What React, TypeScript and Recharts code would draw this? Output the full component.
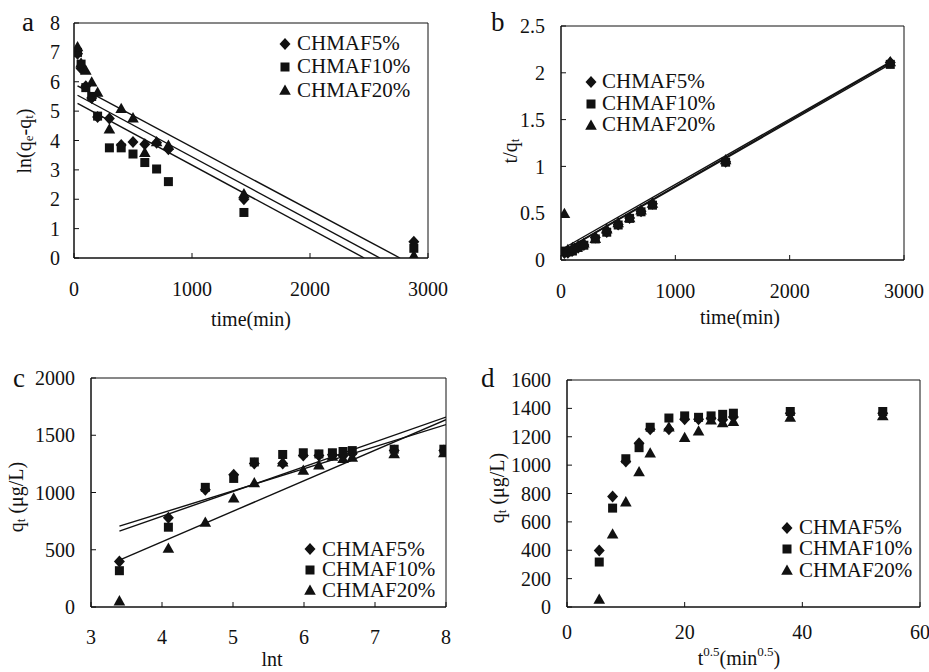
import React from 'react'
import { ComposedChart, Scatter, Line, XAxis, YAxis, ReferenceArea, Legend } from 'recharts'

const FONT = '"Liberation Serif", Tinos, "DejaVu Serif", "Times New Roman", serif'
const INK = '#111'

const seriesNames = ['CHMAF5%', 'CHMAF10%', 'CHMAF20%']

const times = [30, 60, 100, 150, 200, 300, 400, 500, 600, 700, 800, 1440, 2880]
const lnTimes = [3.4, 4.09, 4.61, 5.01, 5.3, 5.7, 5.99, 6.21, 6.4, 6.55, 6.68, 7.27, 7.97]
const sqrtTimes = [5.48, 7.75, 10, 12.25, 14.14, 17.32, 20, 22.36, 24.49, 26.46, 28.28, 37.95, 53.67]

// a: ln(qe-qt)
const lnGap5 = [6.95, 6.45, 5.85, 5.45, 4.8, 4.75, 3.85, 3.95, 3.87, 3.92, 3.7, 2.0, 0.55]
const lnGap10 = [7.0, 6.6, 5.8, 5.5, 4.83, 3.75, 3.75, 3.54, 3.25, 3.03, 2.6, 1.55, 0.33]
const lnGap20 = [7.2, 6.65, 6.4, 6.0, 5.65, 4.4, 5.1, 4.78, 3.6, 3.97, 3.85, 2.2, 0.1]
// pseudo first order fits: [intercept, slope]
const fitA = [[5.605, -0.002162], [5.325, -0.0021646], [5.92, -0.002143]]

// b: t/qt
const tq5 = [0.075, 0.077, 0.098, 0.13, 0.16, 0.24, 0.3, 0.38, 0.45, 0.52, 0.6, 1.05, 2.11]
const tq10 = [0.095, 0.086, 0.096, 0.134, 0.158, 0.225, 0.297, 0.374, 0.445, 0.515, 0.586, 1.045, 2.09]
const tq20 = [0.5, 0.116, 0.135, 0.157, 0.184, 0.234, 0.334, 0.402, 0.455, 0.538, 0.61, 1.075, 2.12]
const fitB = [[0.085, 0.000703], [0.08, 0.000699], [0.11, 0.000697]]

// c, d: qt (ug/L)
const q5 = [398, 779, 1025, 1154, 1253, 1253, 1323, 1323, 1330, 1320, 1340, 1366, 1366]
const q10 = [317, 697, 1045, 1123, 1267, 1332, 1347, 1337, 1347, 1358, 1366, 1378, 1378]
const q20 = [56, 516, 743, 955, 1088, 1270, 1197, 1243, 1320, 1300, 1310, 1340, 1350]
// Elovich fits: [intercept, slope]
const fitC = [[50.4, 192.8], [-74.6, 216.7], [-496.8, 266.6]]

type Pt = { x: number; y: number }
const toPoints = (xs: number[], ys: number[]): Pt[] => xs.map((x, i) => ({ x, y: ys[i] }))
const segment = (x0: number, x1: number, b: number, m: number): Pt[] => [
  { x: x0, y: b + m * x0 },
  { x: x1, y: b + m * x1 },
]

function Marker({ kind, cx, cy }: { kind: number; cx: number; cy: number }) {
  if (kind === 0)
    return <polygon points={`${cx},${cy - 6} ${cx + 5.5},${cy} ${cx},${cy + 6} ${cx - 5.5},${cy}`} fill={INK} />
  if (kind === 1) return <rect x={cx - 4.5} y={cy - 4.5} width={9} height={9} fill={INK} />
  return <polygon points={`${cx},${cy - 5.5} ${cx + 5.8},${cy + 4.8} ${cx - 5.8},${cy + 4.8}`} fill={INK} />
}

function LegendBox({ row, gap }: { row: number; gap: number }) {
  return (
    <div style={{ fontFamily: FONT, fontSize: 21, color: INK, lineHeight: `${row}px` }}>
      {seriesNames.map((name, k) => (
        <div key={name} style={{ display: 'flex', alignItems: 'center', height: row, whiteSpace: 'nowrap' }}>
          <svg width={12} height={14} style={{ marginRight: gap }}>
            <Marker kind={k} cx={6} cy={7} />
          </svg>
          <span>{name}</span>
        </div>
      ))}
    </div>
  )
}

type PanelProps = {
  left: number
  top: number
  width: number
  height: number
  mTop: number
  mRight: number
  yWidth: number
  xHeight: number
  xDomain: [number, number]
  xTicks: number[]
  yDomain: [number, number]
  yTicks: number[]
  xTickMargin: number
  yTickMargin: number
  series: Pt[][]
  fits: Pt[][]
  legend: { left: number; top: number; row: number; gap: number }
}

function Panel(p: PanelProps) {
  const tickStyle = { fill: INK, fontSize: 20, fontFamily: FONT }
  return (
    <div style={{ position: 'absolute', left: p.left, top: p.top }}>
      <ComposedChart
        width={p.width}
        height={p.height}
        margin={{ top: p.mTop, right: p.mRight, left: 0, bottom: 0 }}
      >
        <XAxis
          type="number"
          dataKey="x"
          domain={p.xDomain}
          ticks={p.xTicks}
          interval={0}
          height={p.xHeight}
          tickSize={-5}
          tickMargin={p.xTickMargin}
          stroke={INK}
          tick={tickStyle}
          allowDataOverflow
        />
        <YAxis
          type="number"
          dataKey="y"
          domain={p.yDomain}
          ticks={p.yTicks}
          interval={0}
          width={p.yWidth}
          tickSize={-5}
          tickMargin={p.yTickMargin}
          stroke={INK}
          tick={tickStyle}
          allowDataOverflow
        />
        <ReferenceArea
          x1={p.xDomain[0]}
          x2={p.xDomain[1]}
          y1={p.yDomain[0]}
          y2={p.yDomain[1]}
          fill="none"
          stroke={INK}
          strokeWidth={1}
          fillOpacity={0}
        />
        {p.fits.map((f, k) => (
          <Line
            key={'fit' + k}
            data={f}
            dataKey="y"
            stroke={INK}
            strokeWidth={1.4}
            dot={false}
            isAnimationActive={false}
            legendType="none"
          />
        ))}
        {p.series.map((s, k) => (
          <Scatter
            key={'s' + k}
            name={seriesNames[k]}
            data={s}
            dataKey="y"
            isAnimationActive={false}
            shape={(sp: any) => <Marker kind={k} cx={sp.cx} cy={sp.cy} />}
          />
        ))}
        <Legend
          layout="vertical"
          align="center"
          verticalAlign="middle"
          wrapperStyle={{ left: p.legend.left, top: p.legend.top, width: 'auto' }}
          content={() => <LegendBox row={p.legend.row} gap={p.legend.gap} />}
        />
      </ComposedChart>
    </div>
  )
}

export default function App() {
  const t0 = times[0]
  const fitsA = fitA.map(([b, m]) => segment(t0, -b / m, b, m))
  const fitsB = fitB.map(([b, m]) => segment(t0, times[times.length - 1], b, m))
  const fitsC = fitC.map(([b, m]) => segment(lnTimes[0], 8, b, m))
  const label = { fontSize: 20 }
  const sub = 13

  return (
    <div
      style={{
        position: 'absolute',
        left: 0,
        top: 0,
        width: 929,
        height: 672,
        background: '#fff',
        fontFamily: FONT,
      }}
    >
      <Panel
        left={0}
        top={0}
        width={460}
        height={330}
        mTop={23}
        mRight={32}
        yWidth={74}
        xHeight={72}
        xDomain={[0, 3000]}
        xTicks={[0, 1000, 2000, 3000]}
        yDomain={[0, 8]}
        yTicks={[0, 1, 2, 3, 4, 5, 6, 7, 8]}
        xTickMargin={29}
        yTickMargin={19}
        series={[toPoints(times, lnGap5), toPoints(times, lnGap10), toPoints(times, lnGap20)]}
        fits={fitsA}
        legend={{ left: 279, top: 32, row: 23.3, gap: 6 }}
      />
      <Panel
        left={460}
        top={0}
        width={469}
        height={330}
        mTop={26}
        mRight={25}
        yWidth={101}
        xHeight={70}
        xDomain={[0, 3000]}
        xTicks={[0, 1000, 2000, 3000]}
        yDomain={[0, 2.5]}
        yTicks={[0, 0.5, 1, 1.5, 2, 2.5]}
        xTickMargin={29}
        yTickMargin={21}
        series={[toPoints(times, tq5), toPoints(times, tq10), toPoints(times, tq20)]}
        fits={fitsB}
        legend={{ left: 125, top: 71, row: 21.7, gap: 5 }}
      />
      <Panel
        left={0}
        top={330}
        width={460}
        height={342}
        mTop={48}
        mRight={14}
        yWidth={91}
        xHeight={65}
        xDomain={[3, 8]}
        xTicks={[3, 4, 5, 6, 7, 8]}
        yDomain={[0, 2000]}
        yTicks={[0, 500, 1000, 1500, 2000]}
        xTickMargin={28}
        yTickMargin={21}
        series={[toPoints(lnTimes, q5), toPoints(lnTimes, q10), toPoints(lnTimes, q20)]}
        fits={fitsC}
        legend={{ left: 304, top: 209, row: 20.4, gap: 6 }}
      />
      <Panel
        left={460}
        top={330}
        width={469}
        height={342}
        mTop={50}
        mRight={9}
        yWidth={107}
        xHeight={65}
        xDomain={[0, 60]}
        xTicks={[0, 20, 40, 60]}
        yDomain={[0, 1600]}
        yTicks={[0, 200, 400, 600, 800, 1000, 1200, 1400, 1600]}
        xTickMargin={23}
        yTickMargin={21}
        series={[toPoints(sqrtTimes, q5), toPoints(sqrtTimes, q10), toPoints(sqrtTimes, q20)]}
        fits={[]}
        legend={{ left: 321, top: 187, row: 21.3, gap: 6 }}
      />

      {/* panel letters and axis titles */}
      <svg
        width={929}
        height={672}
        style={{ position: 'absolute', left: 0, top: 0, pointerEvents: 'none', fontFamily: FONT }}
        fill={INK}
      >
        <text x={22} y={31} fontSize={27}>a</text>
        <text x={491} y={31} fontSize={27}>b</text>
        <text x={13} y={387} fontSize={27}>c</text>
        <text x={481} y={387} fontSize={27}>d</text>

        <text x={251} y={326} textAnchor="middle" {...label}>time(min)</text>
        <text x={740} y={324} textAnchor="middle" {...label}>time(min)</text>
        <text x={272} y={666} textAnchor="middle" {...label}>lnt</text>
        <text x={739} y={665} textAnchor="middle" {...label}>
          t<tspan fontSize={sub} dy={-9}>0.5</tspan>
          <tspan dy={9}>(min</tspan>
          <tspan fontSize={sub} dy={-9}>0.5</tspan>
          <tspan dy={9}>)</tspan>
        </text>

        <text transform="translate(31,141) rotate(-90)" textAnchor="middle" {...label}>
          ln(q<tspan fontSize={sub} dy={2}>e</tspan>
          <tspan dy={-2}>-q</tspan>
          <tspan fontSize={sub} dy={2}>t</tspan>
          <tspan dy={-2}>)</tspan>
        </text>
        <text transform="translate(517,151) rotate(-90)" textAnchor="middle" {...label}>
          t/q<tspan fontSize={sub} dy={2}>t</tspan>
        </text>
        <text transform="translate(23,497) rotate(-90)" textAnchor="middle" {...label}>
          q<tspan fontSize={sub} dy={2}>t</tspan>
          <tspan dy={-2}> (μg/L)</tspan>
        </text>
        <text transform="translate(504,488) rotate(-90)" textAnchor="middle" {...label}>
          q<tspan fontSize={sub} dy={2}>t</tspan>
          <tspan dy={-2}> (μg/L)</tspan>
        </text>
      </svg>
    </div>
  )
}
